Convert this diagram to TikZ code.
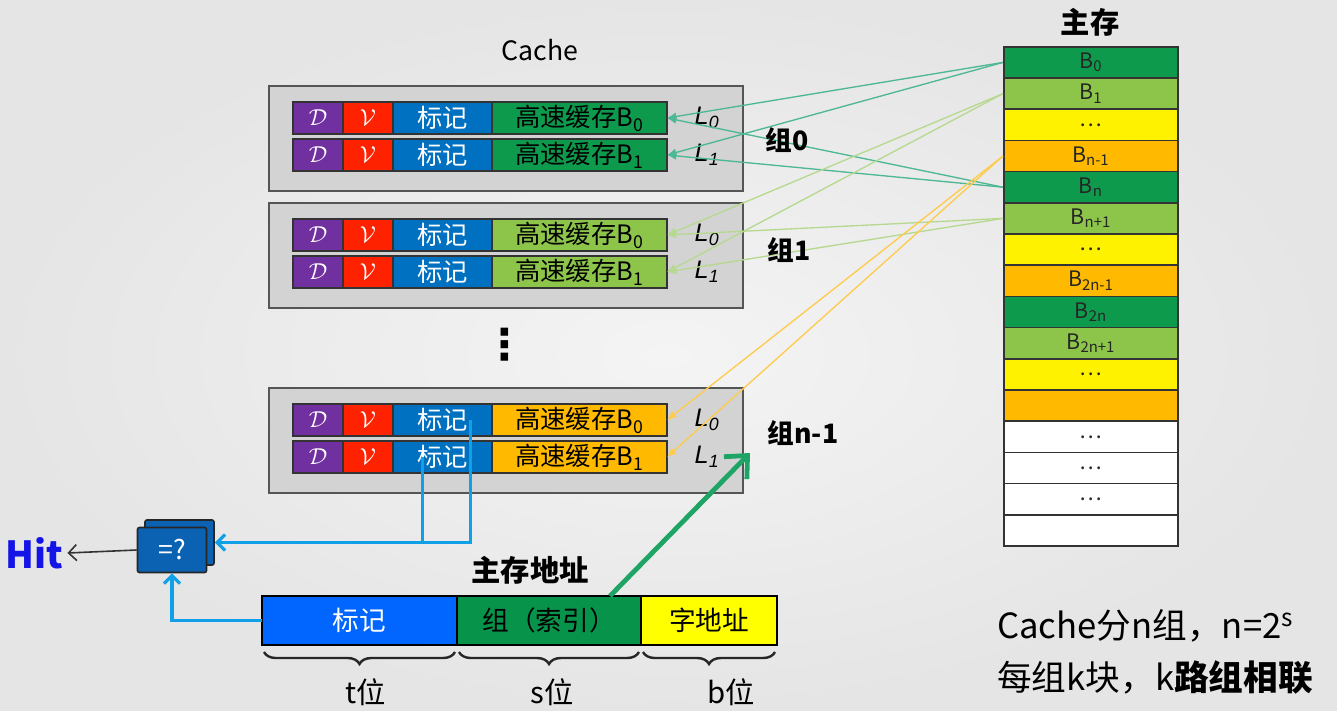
\documentclass[tikz,border=0pt]{standalone}
\usepackage{fontspec}
\setmainfont{Noto Sans CJK SC}
\newfontfamily\lfont{Liberation Sans}
\newfontfamily\symfont{DejaVu Sans}
\usetikzlibrary{calc, positioning, arrows.meta, decorations.pathreplacing}

\definecolor{bgin}{HTML}{F4F4F4}
\definecolor{bgout}{HTML}{E5E5E5}
\definecolor{grpfill}{HTML}{D3D3D3}
\definecolor{grpline}{HTML}{555555}
\definecolor{cpurple}{HTML}{7030A0}
\definecolor{cred}{HTML}{FF2200}
\definecolor{ctag}{HTML}{0070C0}
\definecolor{cdark}{HTML}{0E9A4C}
\definecolor{clight}{HTML}{8DC54B}
\definecolor{corange}{HTML}{FFBA00}
\definecolor{cyellow}{HTML}{FFF200}
\definecolor{ln0}{HTML}{4DB892}
\definecolor{ln1}{HTML}{B7D98F}
\definecolor{lnn}{HTML}{FFCB4C}
\definecolor{chit}{HTML}{10A0E8}
\definecolor{hitblue}{HTML}{1414E6}
\definecolor{cmpfill}{HTML}{0B62B2}
\definecolor{addrtag}{HTML}{0066FF}
\definecolor{addrset}{HTML}{07934A}
\definecolor{addrword}{HTML}{FFFF00}
\definecolor{setarr}{HTML}{1EA465}

\newcommand{\fcell}{\fontsize{19pt}{19pt}\selectfont}
\newcommand{\fmem}{\fontsize{16pt}{16pt}\selectfont}
\newcommand{\fhead}{\fontsize{22pt}{22pt}\selectfont\bfseries}
\newcommand{\fgrp}{\fontsize{20pt}{20pt}\selectfont\bfseries}
\newcommand{\fnote}{\fontsize{26pt}{26pt}\selectfont}

\begin{document}
\begin{tikzpicture}[x=0.75pt, y=-0.75pt]
        \tikzset{groupbox/.style = {draw=grpline, fill=grpfill, line width=1.2pt, minimum width=355.5pt, minimum height=78.75pt, anchor=north west, inner sep=0pt}}
        \tikzset{cell/.style = {draw=black!80, line width=0.8pt, minimum height=24pt, inner sep=0pt, outer sep=0pt, anchor=north west, font=\fcell}}
        \tikzset{rowline/.style = {draw=black!80, line width=1.8pt}}
        \tikzset{llabel/.style = {font={\lfont\itshape\fontsize{19pt}{19pt}\selectfont}}}
        \tikzset{glabel/.style = {font=\fgrp}}
        \tikzset{memrow/.style = {draw=black!80, line width=1.2pt, minimum width=130.5pt, minimum height=23.4pt, inner sep=0pt, anchor=north west, font=\fmem, text=black!85}}
        \tikzset{addr/.style = {draw=black, line width=1.5pt, minimum height=36.75pt, inner sep=0pt, outer sep=0pt, anchor=north west, font=\fontsize{20pt}{20pt}\selectfont}}
        \tikzset{link0/.style = {draw=ln0, line width=1pt, -{Latex[length=7pt, width=6pt]}}}
        \tikzset{link1/.style = {draw=ln1, line width=1pt, -{Latex[length=7pt, width=6pt]}}}
        \tikzset{linkn/.style = {draw=lnn, line width=1pt, -{Latex[length=7pt, width=6pt]}}}
        \tikzset{hitwire/.style = {draw=chit, line width=2.4pt}}
        \tikzset{hitarrow/.style = {hitwire, -{Straight Barb[length=6pt, width=12pt]}}}
        \tikzset{setarrow/.style = {draw=setarr, line width=3.6pt, -{Straight Barb[length=13pt, width=24pt]}}}
        \tikzset{cmpbox/.style = {draw=black!85, fill=cmpfill, line width=1.2pt, rounded corners=1.5pt, minimum width=51.75pt, minimum height=33.75pt, inner sep=0pt, text=white, font=\fontsize{20pt}{20pt}\selectfont}}
        \tikzset{brace/.style = {decorate, decoration={brace, mirror, amplitude=9pt}, line width=1.8pt, draw=black!85}}
        \tikzset{blabel/.style = {font=\fontsize{22pt}{22pt}\selectfont}}
        \tikzset{note/.style = {font=\fnote, anchor=west, inner sep=0pt}}

        % background
        \shade[inner color=bgin, outer color=bgout] (0,0) rectangle (1337,710);
        \useasboundingbox (0,0) rectangle (1337,710);

        \node[font=\fontsize{20pt}{20pt}\selectfont] (cachelab) at (540,50) {Cache};
        \node[font=\fhead] (memlab) at (1090,22) {主存};

        % cache groups
        \foreach \g/\y/\col in {0/85/cdark, 1/202/clight, n/387/corange} {
          \node[groupbox] (g\g) at (268,\y) {};
          \foreach \k/\r/\i in {a/17/0, b/54/1} {
            \node[cell, fill=cpurple, text=white, minimum width=37.5pt] (d\g\k) at (293,\y+\r) {$\mathcal{D}$};
            \node[cell, fill=cred, text=white, minimum width=37.5pt, right=0pt of d\g\k] (v\g\k) {$\mathcal{V}$};
            \node[cell, fill=ctag, text=white, minimum width=74.25pt, right=0pt of v\g\k] (t\g\k) {标记};
            \node[cell, fill=\col, minimum width=131.25pt, right=0pt of t\g\k] (c\g\k) {高速缓存B\textsubscript{\i}};
            \draw[rowline] (d\g\k.north west) rectangle (c\g\k.south east);
            \node[llabel] (l\g\k) at (707,\y+\r+16) {L\textsubscript{\i}};
          }
        }
        \node[font={\symfont\bfseries\fontsize{32pt}{32pt}\selectfont}] (vdots) at (505,345) {⋮};

        % main memory
        \foreach \lbl/\col [count=\i from 0] in {B\textsubscript{0}/cdark, B\textsubscript{1}/clight, \dots/cyellow, B\textsubscript{n-1}/corange,
            B\textsubscript{n}/cdark, B\textsubscript{n+1}/clight, \dots/cyellow, B\textsubscript{2n-1}/corange,
            B\textsubscript{2n}/cdark, B\textsubscript{2n+1}/clight, \dots/cyellow, {}/corange,
            \dots/white, \dots/white, \dots/white, {}/white}
          \node[memrow, fill=\col] (m\i) at (1003,46+\i*31.2) {\lbl};

        % mapping
        \foreach \m/\g in {0/0, 4/0, 1/1, 5/1, 3/n}
          \foreach \k in {a, b}
            \draw[link\g] (m\m.west) -- (c\g\k.east);

        \node[glabel] (gl0) at (787,140) {组0};
        \node[glabel] (gl1) at (789,250) {组1};
        \node[glabel] (gln) at (803,433) {组n-1};

        % address
        \node[font=\fhead] (addrlab) at (530,570) {主存地址};
        \node[addr, fill=addrtag, text=white, minimum width=146.25pt] (aTag) at (262,596) {标记};
        \node[addr, fill=addrset, minimum width=138pt, right=0pt of aTag] (aSet) {组（索引）};
        \node[addr, fill=addrword, minimum width=102pt, right=0pt of aSet] (aWord) {字地址};

        \draw[brace] ($(aTag.south west)+(2,7)$) -- ($(aTag.south east)+(-2,7)$);
        \draw[brace] ($(aSet.south west)+(2,7)$) -- ($(aSet.south east)+(-2,7)$);
        \draw[brace] ($(aWord.south west)+(2,7)$) -- ($(aWord.south east)+(-2,7)$);
        \node[blabel] (tbits) at (366,692) {t位};
        \node[blabel] (sbits) at (552,692) {s位};
        \node[blabel] (bbits) at (731,692) {b位};

        \coordinate (settip) at (750,453);
        \draw[setarrow] ($(aSet.north east)+(-31,0)$) -- (settip);

        % compare
        \node[cmpbox] (cmpb) at (179.5,542.5) {};
        \node[cmpbox] (cmp) at (172,550) {=?};
        \node[font=\fontsize{28pt}{28pt}\selectfont\bfseries, text=hitblue] (hit) at (34,553) {Hit};
        \draw[draw=black!80, line width=1.2pt, -{Straight Barb[length=6pt, width=12pt]}] (cmp.west) -- (hit.east);

        \coordinate (tapa) at ($(tna.center)+(28,0)$);
        \coordinate (tapb) at ($(tnb.center)+(-20,0)$);
        \draw[hitarrow] (tapa) |- (cmpb.east);
        \draw[hitwire] (tapb) -- (tapb |- cmpb.east);
        \draw[hitarrow] (aTag.west) -| (cmp.south);

        \node[note] (note1) at (997,626) {Cache分n组，n=2\textsuperscript{s}};
        \node[note] (note2) at (997,677) {每组k块，k\textbf{路组相联}};
      \end{tikzpicture}
\end{document}
